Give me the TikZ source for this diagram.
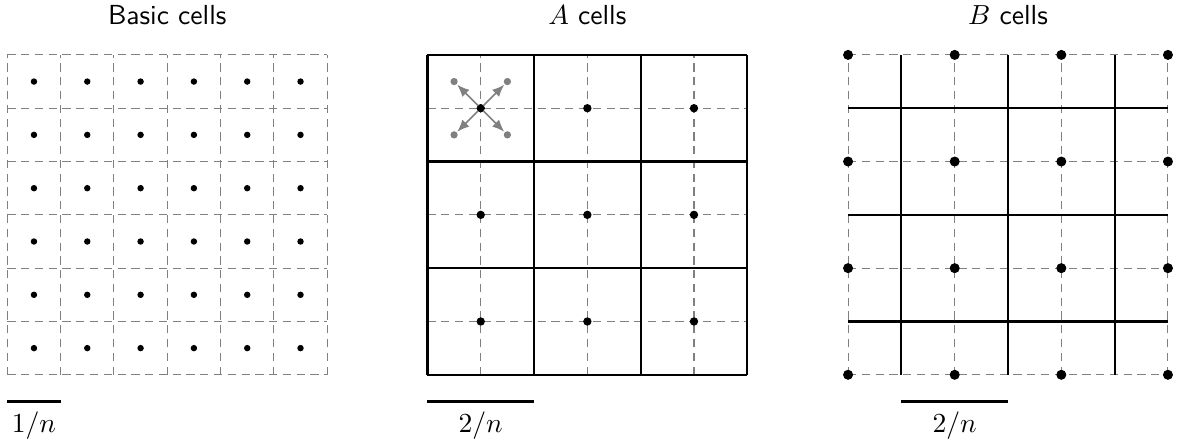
\documentclass[tikz,border=0pt]{standalone}
\usetikzlibrary{arrows.meta}

\tikzset{
  fine/.style={gray, dash pattern=on 3pt off 2pt, line width=0.4pt},
  heavy/.style={black, line width=0.8pt},
  move/.style={gray, line width=0.6pt, -{Latex[length=4.4pt,width=3.6pt]}, shorten >=1.6pt},
}

\begin{document}
\begin{tikzpicture}[x=0.68cm,y=0.68cm]
      \useasboundingbox (-0.137,-1.33) rectangle (21.94,7.03);

      % BASIC CELLS
      \draw[fine] (0,0) grid[step=1] (6,6);
      \foreach \i in {0,...,5}
        \foreach \j in {0,...,5}
          \draw[fill] (\i+0.5,\j+0.5) circle (0.95pt);
      \node (basic) at (3,6.75) {\sffamily Basic cells};

      \coordinate (b1l) at (0,-0.5);
      \coordinate (b1r) at (1,-0.5);
      \draw[heavy] (b1l) -- (b1r);
      \node (len1) at (0.5,-0.96) {$1/n$};

      % A CELLS
      \begin{scope}[shift={(7.88,0)}]
      \draw[fine] (0,0) grid[step=1] (6,6);
      \draw[heavy] (0,0) grid[step=2] (6,6);
      \foreach \i in {1,3,5}
        \foreach \j in {1,3,5}
          \draw[fill] (\i,\j) circle (1.3pt);
      \node (acells) at (3,6.75) {\sffamily $A$ cells};

      \coordinate (c) at (1,5);   % centre of the upper left A cell
      \draw[gray,fill=gray] (0.5,5.5) circle (1.1pt)
      +(0,0) coordinate (nw)
      ;
      \draw[gray,fill=gray] (1.5,5.5) circle (1.1pt)
      +(0,0) coordinate (ne)
      ;
      \draw[gray,fill=gray] (0.5,4.5) circle (1.1pt)
      +(0,0) coordinate (sw)
      ;
      \draw[gray,fill=gray] (1.5,4.5) circle (1.1pt)
      +(0,0) coordinate (se)
      ;

      % ARROWS
      \draw[move] (c) -- (nw);
      \draw[move] (c) -- (ne);
      \draw[move] (c) -- (sw);
      \draw[move] (c) -- (se);
      \draw[fill] (c) circle (1.1pt);

      \coordinate (b2l) at (0,-0.5);
      \coordinate (b2r) at (2,-0.5);
      \draw[heavy] (b2l) -- (b2r);
      \node (len2) at (1,-0.96) {$2/n$};
      \end{scope}

      % B CELLS
      \begin{scope}[shift={(15.77,0)}]
      \draw[fine] (0,0) grid[step=2] (6,6);
      \foreach \k in {1,3,5} {
        \draw[heavy] (\k,0) -- (\k,6);
        \draw[heavy] (0,\k) -- (6,\k);
      }
      \foreach \i in {0,2,4,6}
        \foreach \j in {0,2,4,6}
          \draw[fill] (\i,\j) circle (1.6pt);
      \node (bcells) at (3,6.75) {\sffamily $B$ cells};

      \coordinate (b3l) at (1,-0.5);
      \coordinate (b3r) at (3,-0.5);
      \draw[heavy] (b3l) -- (b3r);
      \node (len3) at (2,-0.96) {$2/n$};
      \end{scope}

\end{tikzpicture}
\end{document}
